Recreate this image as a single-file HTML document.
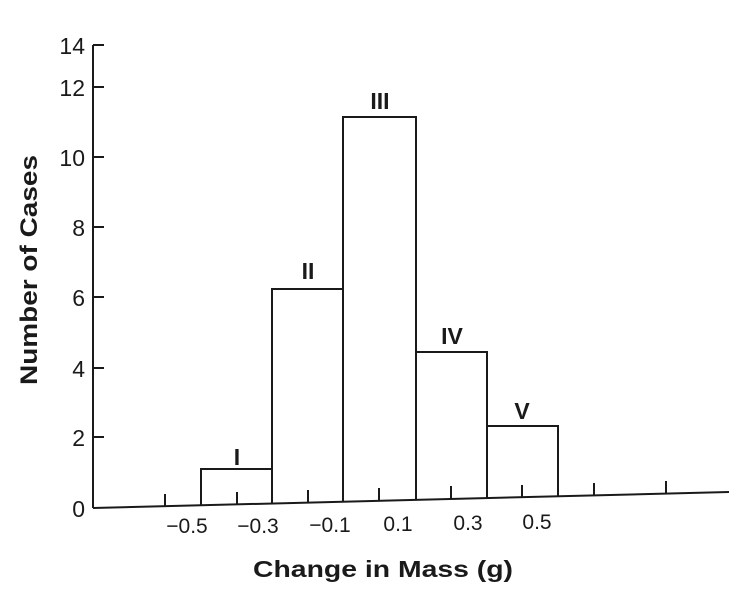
<!DOCTYPE html>
<html><head><style>
html,body{margin:0;padding:0;background:#fff;}
svg{display:block;}
text{font-family:"Liberation Sans",Arial,sans-serif;fill:#1a1a1a;}
</style></head><body>
<svg width="729" height="591" viewBox="0 0 729 591" xmlns="http://www.w3.org/2000/svg">
<g stroke="#1a1a1a" stroke-width="2" fill="none">
<line x1="93" y1="45" x2="93" y2="508"/>
<line x1="93" y1="508" x2="729" y2="492"/>
<line x1="93" y1="45" x2="104" y2="45"/>
<line x1="93" y1="87" x2="104" y2="87"/>
<line x1="93" y1="157" x2="104" y2="157"/>
<line x1="93" y1="227" x2="104" y2="227"/>
<line x1="93" y1="297" x2="104" y2="297"/>
<line x1="93" y1="368" x2="104" y2="368"/>
<line x1="93" y1="437" x2="104" y2="437"/>
<line x1="165" y1="506" x2="165" y2="494"/>
<line x1="237" y1="504" x2="237" y2="492"/>
<line x1="308" y1="503" x2="308" y2="490"/>
<line x1="379" y1="501" x2="379" y2="488"/>
<line x1="451" y1="499" x2="451" y2="486"/>
<line x1="522" y1="497" x2="522" y2="485"/>
<line x1="594" y1="495" x2="594" y2="483"/>
<line x1="666" y1="494" x2="666" y2="481"/>
<polyline points="201,505 201,469 272,469 272,503"/>
<polyline points="272,503 272,289 343,289 343,501"/>
<polyline points="343,501 343,117 416,117 416,500"/>
<polyline points="416,500 416,352 487,352 487,498"/>
<polyline points="487,498 487,426 558,426 558,497"/>
</g>
<g font-size="23" text-anchor="end">
<text x="85" y="54">14</text>
<text x="85" y="96">12</text>
<text x="85" y="166">10</text>
<text x="85" y="236">8</text>
<text x="85" y="306">6</text>
<text x="85" y="377">4</text>
<text x="85" y="446">2</text>
<text x="85" y="517">0</text>
</g>
<g font-size="21" text-anchor="middle">
<text x="187" y="533">−0.5</text>
<text x="258" y="533">−0.3</text>
<text x="330" y="532">−0.1</text>
<text x="398" y="531">0.1</text>
<text x="468" y="530">0.3</text>
<text x="537" y="529">0.5</text>
</g>
<g font-size="23" font-weight="bold" text-anchor="middle">
<text x="237" y="465">I</text>
<text x="308" y="279">II</text>
<text x="380" y="109">III</text>
<text x="452" y="344">IV</text>
<text x="522" y="419">V</text>
</g>
<g font-weight="bold">
<text x="253" y="577" font-size="23" textLength="260" lengthAdjust="spacingAndGlyphs">Change in Mass (g)</text>
<text transform="translate(37,385) rotate(-90)" font-size="24" textLength="230" lengthAdjust="spacingAndGlyphs">Number of Cases</text>
</g>
</svg>
</body></html>
